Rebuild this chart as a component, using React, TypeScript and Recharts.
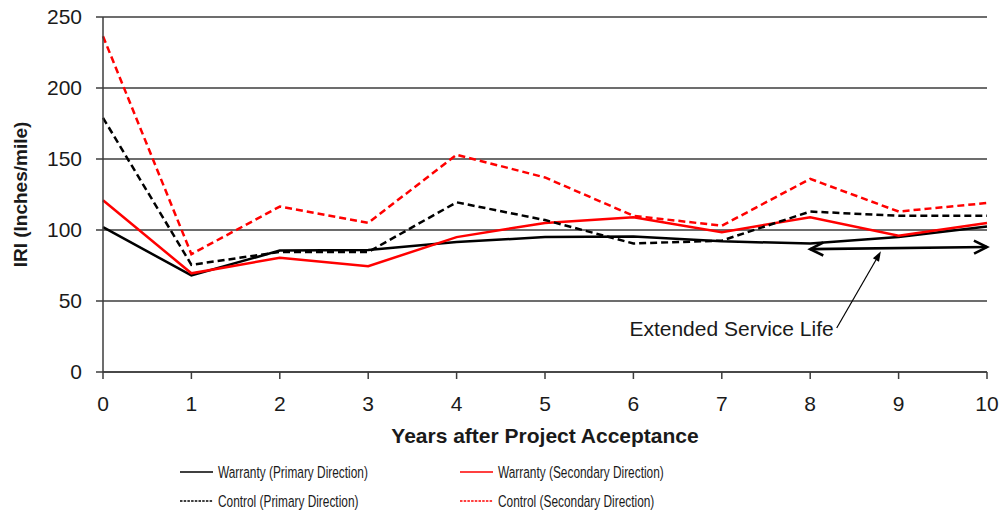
import React from 'react';
import {
  LineChart,
  Line,
  XAxis,
  YAxis,
  CartesianGrid,
  ReferenceLine,
} from 'recharts';

// Years after acceptance
const years = [0, 1, 2, 3, 4, 5, 6, 7, 8, 9, 10];

// IRI values (inches/mile)
const warrantyPrimary = [102, 68, 85.5, 86, 91.5, 95, 95.5, 92, 90.5, 95, 102.5];
const warrantySecondary = [121, 69.5, 80.5, 74.5, 95, 105, 109, 98.5, 109, 96, 105];
const controlPrimary = [179, 75.5, 84.5, 84.5, 119.5, 107, 90.5, 92.5, 113, 110, 110];
const controlSecondary = [236.5, 83, 116.5, 105, 153, 137, 110, 103, 136, 113, 119];

const yTicks = [0, 50, 100, 150, 200, 250];

// "Extended Service Life" annotation, in data units
const serviceLifeYears = [8, 10];
const serviceLifeIri = [86.5, 88];
const pointerYears = [8.3, 8.8];
const pointerIri = [31, 85];
const annotationText = 'Extended Service Life';

const series = [
  { key: 'warrantyPrimary', name: 'Warranty (Primary Direction)', color: '#000000', dashed: false },
  { key: 'warrantySecondary', name: 'Warranty (Secondary Direction)', color: '#ff0000', dashed: false },
  { key: 'controlPrimary', name: 'Control (Primary Direction)', color: '#000000', dashed: true },
  { key: 'controlSecondary', name: 'Control (Secondary Direction)', color: '#ff0000', dashed: true },
];

const data = years.map((year, i) => ({
  year,
  warrantyPrimary: warrantyPrimary[i],
  warrantySecondary: warrantySecondary[i],
  controlPrimary: controlPrimary[i],
  controlSecondary: controlSecondary[i],
}));

const FONT = 'Arial, "Liberation Sans", sans-serif';
const INK = '#1a1a1a';

function DoubleArrow(props: any) {
  const { x1, y1, x2, y2 } = props;
  const a = Math.atan2(y2 - y1, x2 - x1);
  const len = 13;
  const half = 6.5;
  const head = (x: number, y: number, dir: number) => {
    const bx = x - Math.cos(a) * len * dir;
    const by = y - Math.sin(a) * len * dir;
    const nx = -Math.sin(a) * half;
    const ny = Math.cos(a) * half;
    return `M${bx + nx},${by + ny} L${x},${y} L${bx - nx},${by - ny}`;
  };
  return (
    <g>
      <line x1={x1} y1={y1} x2={x2} y2={y2} stroke="#000" strokeWidth={2.6} />
      <path d={head(x2, y2, 1)} fill="none" stroke="#000" strokeWidth={2.6} />
      <path d={head(x1, y1, -1)} fill="none" stroke="#000" strokeWidth={2.6} />
    </g>
  );
}

function Pointer(props: any) {
  const { x1, y1, x2, y2 } = props;
  const a = Math.atan2(y2 - y1, x2 - x1);
  const len = 10;
  const half = 3.5;
  const bx = x2 - Math.cos(a) * len;
  const by = y2 - Math.sin(a) * len;
  const nx = -Math.sin(a) * half;
  const ny = Math.cos(a) * half;
  return (
    <g>
      <line x1={x1} y1={y1} x2={bx} y2={by} stroke="#000" strokeWidth={1.2} />
      <path d={`M${bx + nx},${by + ny} L${x2},${y2} L${bx - nx},${by - ny} Z`} fill="#000" />
      <text
        x={x1 - 3}
        y={y1 + 8}
        textAnchor="end"
        fontSize={21}
        fontFamily={FONT}
        fill={INK}
      >
        {annotationText}
      </text>
    </g>
  );
}

function YTitle(props: any) {
  const { viewBox } = props;
  const cx = viewBox.x + 20;
  const cy = viewBox.y + viewBox.height / 2;
  return (
    <text
      x={cx}
      y={cy}
      transform={`rotate(-90 ${cx} ${cy})`}
      textAnchor="middle"
      dominantBaseline="central"
      fontSize={19}
      fontWeight="bold"
      fontFamily={FONT}
      fill={INK}
    >
      IRI (Inches/mile)
    </text>
  );
}

function ChartLegend() {
  const cols = [180, 460];
  const rows = [17, 46];
  return (
    <svg
      width={1003}
      height={62}
      style={{ position: 'absolute', left: 0, top: 455 }}
    >
      {series.map((s, i) => {
        const x = cols[i % 2];
        const y = rows[Math.floor(i / 2)];
        return (
          <g key={s.key}>
            <line
              x1={x}
              y1={y}
              x2={x + 33}
              y2={y}
              stroke={s.color}
              strokeWidth={1.3}
              strokeDasharray={s.dashed ? '2.5 1.2' : undefined}
            />
            <text
              transform={`translate(${x + 38},${y + 6}) scale(0.72,1)`}
              fontSize={16.5}
              fontFamily={FONT}
              fill={INK}
            >
              {s.name}
            </text>
          </g>
        );
      })}
    </svg>
  );
}

export default function App() {
  return (
    <div
      style={{
        position: 'absolute',
        left: 0,
        top: 0,
        width: 1003,
        height: 517,
        background: '#fff',
        fontFamily: FONT,
      }}
    >
      <LineChart
        width={1003}
        height={517}
        data={data}
        margin={{ top: 17, right: 16, left: 0, bottom: 95 }}
      >
        <CartesianGrid horizontal vertical={false} stroke="#3c3c3c" strokeWidth={1.5} />
        <XAxis
          dataKey="year"
          type="number"
          domain={[0, 10]}
          ticks={years}
          height={50}
          stroke="#3c3c3c"
          strokeWidth={1.5}
          tickSize={7}
          tickMargin={17}
          tick={{ fontSize: 21, fill: INK, fontFamily: FONT }}
          label={{
            value: 'Years after Project Acceptance',
            position: 'bottom',
            offset: 6,
            fontSize: 21,
            fontWeight: 'bold',
            fill: INK,
            fontFamily: FONT,
          }}
        />
        <YAxis
          domain={[0, 250]}
          ticks={yTicks}
          width={103}
          stroke="#3c3c3c"
          strokeWidth={1.5}
          tickSize={7}
          tickMargin={14}
          tick={{ fontSize: 21, fill: INK, fontFamily: FONT }}
          label={<YTitle />}
        />
        {series.map((s) => (
          <Line
            key={s.key}
            type="linear"
            dataKey={s.key}
            name={s.name}
            stroke={s.color}
            strokeWidth={2.5}
            strokeDasharray={s.dashed ? '7 4' : undefined}
            dot={false}
            activeDot={false}
            isAnimationActive={false}
          />
        ))}
        <ReferenceLine
          segment={[
            { x: serviceLifeYears[0], y: serviceLifeIri[0] },
            { x: serviceLifeYears[1], y: serviceLifeIri[1] },
          ]}
          shape={DoubleArrow}
          ifOverflow="visible"
        />
        <ReferenceLine
          segment={[
            { x: pointerYears[0], y: pointerIri[0] },
            { x: pointerYears[1], y: pointerIri[1] },
          ]}
          shape={Pointer}
          ifOverflow="visible"
        />
      </LineChart>
      <ChartLegend />
    </div>
  );
}
